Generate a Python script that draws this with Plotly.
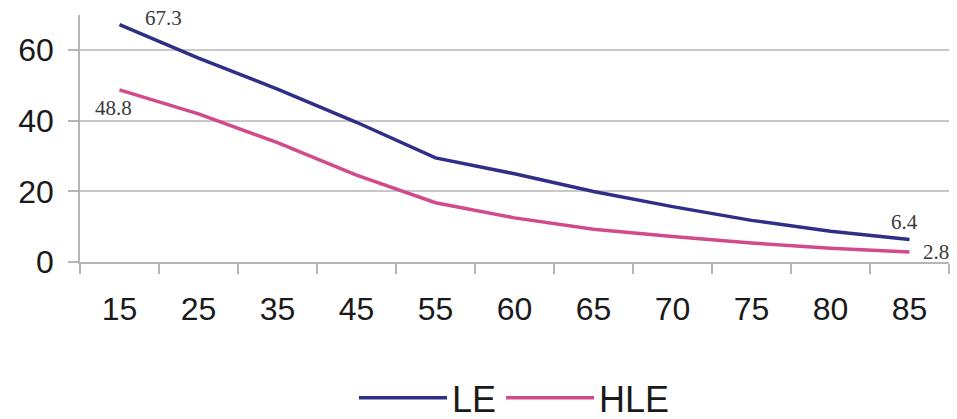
import plotly.graph_objects as go

ages = ["15", "25", "35", "45", "55", "60", "65", "70", "75", "80", "85"]
le = [67.3, 57.8, 49.0, 39.6, 29.5, 25.0, 20.0, 15.7, 11.8, 8.7, 6.4]
hle = [48.8, 42.0, 33.8, 24.6, 16.8, 12.5, 9.3, 7.2, 5.4, 3.9, 2.8]
y_ticks = [0, 20, 40, 60]

le_color = "#2f2f88"
hle_color = "#d24a8c"

fig = go.Figure()
fig.add_trace(go.Scatter(x=ages, y=le, mode="lines", name="LE",
                         line=dict(color=le_color, width=3.5)))
fig.add_trace(go.Scatter(x=ages, y=hle, mode="lines", name="HLE",
                         line=dict(color=hle_color, width=3.5)))

lab_font = dict(family="Liberation Serif", size=21, color="#3a3a3a")
annots = [
    (0, le[0], "67.3", 44, -7),
    (0, hle[0], "48.8", -6, 18),
    (len(ages) - 1, le[-1], "6.4", -5, -17),
    (len(ages) - 1, hle[-1], "2.8", 26, 0),
]
for x, y, t, ax, ay in annots:
    fig.add_annotation(x=x, y=y, xref="x", yref="y", text=t, showarrow=False,
                       xshift=ax, yshift=-ay, font=lab_font)

fig.update_layout(
    width=957, height=419,
    margin=dict(l=80, r=8, t=15, b=157, autoexpand=False),
    paper_bgcolor="white", plot_bgcolor="white",
    font=dict(family="Liberation Sans, Arial, sans-serif", size=32, color="#1a1a1a"),
    showlegend=True,
    legend=dict(orientation="h", x=0.5, xanchor="center", y=-0.55, yanchor="middle",
                font=dict(size=36), itemwidth=88, traceorder="normal"),
    xaxis=dict(type="category", range=[-0.5, 10.5], tickson="boundaries",
               ticks="outside", ticklen=10, tickcolor="#b5b5b5", tickwidth=1.5,
               showline=True, linecolor="#b5b5b5", linewidth=1.5,
               showgrid=False, zeroline=False, ticklabelstandoff=18,
               tickfont=dict(size=32), automargin=False),
    yaxis=dict(range=[0, 70], tickvals=y_ticks, ticks="outside", ticklen=10,
               tickcolor="#b5b5b5", tickwidth=1.5,
               showline=True, linecolor="#b5b5b5", linewidth=1.5,
               showgrid=True, gridcolor="#c8c8c8", gridwidth=1.5, zeroline=False,
               ticklabelstandoff=8, tickfont=dict(size=32), automargin=False),
)

fig.write_html("out.html")
